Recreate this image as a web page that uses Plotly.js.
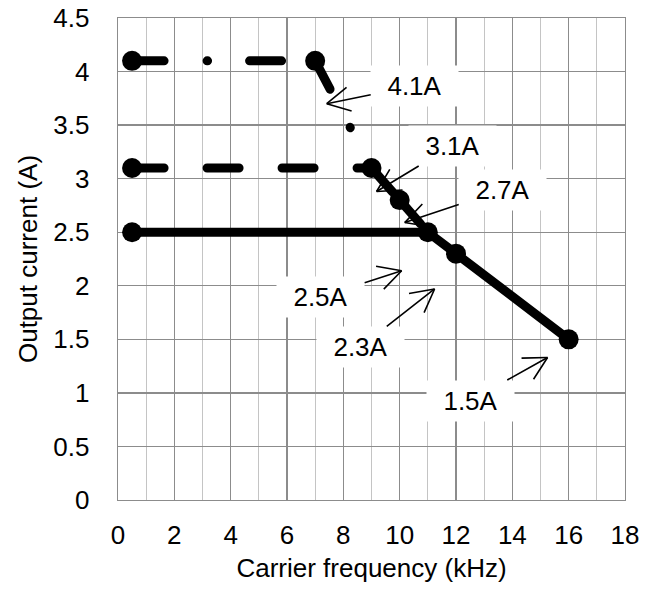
<!DOCTYPE html>
<html>
<head>
<meta charset="utf-8">
<script src="https://cdn.plot.ly/plotly-3.0.1.min.js"></script>
<style>
  html, body { margin: 0; padding: 0; background: #fff; }
  #chart { width: 657px; height: 589px; }
  .scatterlayer .js-line { stroke-linecap: round !important; stroke-linejoin: round !important; }
</style>
</head>
<body>
<div id="chart"></div>
<script>
// Series data (carrier frequency kHz vs output current A)
const freqSolid = [0.5, 11, 12, 16];
const currSolid = [2.5, 2.5, 2.3, 1.5];

const freqDash = [0.5, 9, 10, 11];
const currDash = [3.1, 3.1, 2.8, 2.5];

const freqDashDot = [0.5, 7, 9];
const currDashDot = [4.1, 4.1, 3.1];

// Annotation labels and the points their arrows indicate
const labelTexts = ['4.1A', '3.1A', '2.7A', '2.5A', '2.3A', '1.5A'];
const labelTipX = [7.41, 9.18, 10.18, 10.07, 11.24, 15.25];
const labelTipY = [3.70, 2.88, 2.59, 2.14, 1.97, 1.33];
const labelOffX = [88, 76, 98, -81, -74, -77];
const labelOffY = [-18, -46, -33, 26, 58, 43];

const FONT = '"Liberation Sans", Arial, sans-serif';
const FS = 26;

const baseLine = { color: '#000', width: 9 };
const baseMarker = { color: '#000', size: 20 };

const traces = [];
// Dashed patterns restart at every vertex (one trace per segment)
function addSegments(xs, ys, dash) {
  for (let i = 0; i < xs.length - 1; i++) {
    traces.push({ x: xs.slice(i, i + 2), y: ys.slice(i, i + 2), mode: 'lines', cliponaxis: false,
      line: Object.assign({}, baseLine, { dash: dash }), showlegend: false, hoverinfo: 'skip' });
  }
}
addSegments(freqDashDot, currDashDot, '32px,43px,0.5px,42px');
traces.push({ x: freqDashDot.slice(0, 2), y: currDashDot.slice(0, 2), mode: 'markers', cliponaxis: false,
  marker: baseMarker, showlegend: false, hoverinfo: 'skip' });
addSegments(freqDash, currDash, '32px,43px');
traces.push({ x: freqDash.slice(0, 3), y: currDash.slice(0, 3), mode: 'markers', cliponaxis: false,
  marker: baseMarker, showlegend: false, hoverinfo: 'skip' });
traces.push({ x: freqSolid, y: currSolid, mode: 'lines+markers', cliponaxis: false,
  line: baseLine, marker: baseMarker, showlegend: false, hoverinfo: 'skip' });

const annotations = [];
const ARM = 27, ARM_ANG = 28 * Math.PI / 180;
labelTexts.forEach((t, i) => {
  annotations.push({
    x: labelTipX[i], y: labelTipY[i], xref: 'x', yref: 'y',
    text: t, showarrow: true, arrowhead: 0, arrowwidth: 1.6,
    arrowcolor: '#000', ax: labelOffX[i], ay: labelOffY[i],
    bgcolor: '#fff', width: 85, height: 38,
    font: { family: FONT, size: FS, color: '#000' }
  });
  const ang = Math.atan2(labelOffY[i], labelOffX[i]);
  [-1, 1].forEach(s => {
    annotations.push({
      x: labelTipX[i], y: labelTipY[i], xref: 'x', yref: 'y',
      text: '', showarrow: true, arrowhead: 0, arrowwidth: 1.6, arrowcolor: '#000',
      borderpad: 0, width: 1, height: 1, font: { size: 1 },
      ax: ARM * Math.cos(ang + s * ARM_ANG), ay: ARM * Math.sin(ang + s * ARM_ANG)
    });
  });
});

const layout = {
  width: 657, height: 589,
  margin: { l: 118, r: 32, t: 18, b: 89 },
  paper_bgcolor: '#fff', plot_bgcolor: '#fff',
  font: { family: FONT, size: FS, color: '#000' },
  xaxis: {
    range: [0, 18], dtick: 2, tick0: 0, showgrid: true, gridcolor: '#8c8c8c', gridwidth: 1.3,
    minor: { dtick: 1, tick0: 0, showgrid: true, gridcolor: '#c4c4c4', gridwidth: 1.3 },
    showline: true, mirror: true, linecolor: '#8c8c8c', linewidth: 1.3,
    zeroline: false, ticks: '', ticklabelstandoff: 11,
    tickfont: { family: FONT, size: FS, color: '#000' },
    title: { text: 'Carrier frequency (kHz)', font: { family: FONT, size: FS, color: '#000' }, standoff: 10 }
  },
  yaxis: {
    range: [0, 4.5], dtick: 0.5, tick0: 0, showgrid: true, gridcolor: '#8c8c8c', gridwidth: 1.3,
    showline: true, mirror: true, linecolor: '#8c8c8c', linewidth: 1.3,
    zeroline: false, ticks: '', ticklabelstandoff: 22,
    tickfont: { family: FONT, size: FS, color: '#000' },
    title: { text: 'Output current (A)', font: { family: FONT, size: FS, color: '#000' }, standoff: 8 }
  },
  annotations: annotations
};

Plotly.newPlot('chart', traces, layout, { staticPlot: true, displayModeBar: false });
</script>
</body>
</html>
